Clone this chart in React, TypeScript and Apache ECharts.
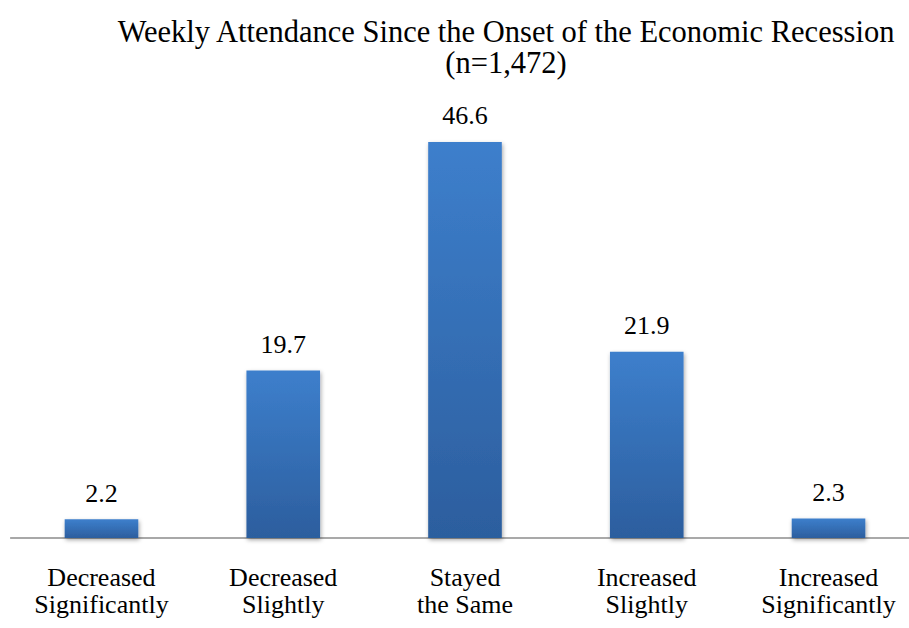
import React, { useEffect, useRef } from "react";
import * as echarts from "echarts";

const categories = [
  "Decreased\nSignificantly",
  "Decreased\nSlightly",
  "Stayed\nthe Same",
  "Increased\nSlightly",
  "Increased\nSignificantly",
];
const values = [2.2, 19.7, 46.6, 21.9, 2.3];
const titleText = "Weekly Attendance Since the Onset of the Economic Recession\n(n=1,472)";

const FONT = "Liberation Serif, Times New Roman, serif";

export default function App() {
  const ref = useRef<HTMLDivElement>(null);
  useEffect(() => {
    if (!ref.current) return;
    const chart = echarts.init(ref.current, undefined, { renderer: "svg" });
    chart.setOption({
      animation: false,
      backgroundColor: "#ffffff",
      textStyle: { fontFamily: FONT },
      title: {
        text: titleText,
        left: 501,
        textAlign: "center",
        top: 11,
        textStyle: {
          fontFamily: FONT,
          fontSize: 30.5,
          fontWeight: "normal",
          color: "#000000",
          lineHeight: 31,
        },
      },
      grid: { left: 10.6, right: 10.6, top: 113, bottom: 90 },
      xAxis: {
        type: "category",
        data: categories,
        axisLine: { lineStyle: { color: "#8c8c8c", width: 1.5 } },
        axisTick: { show: false },
        axisLabel: {
          fontFamily: FONT,
          fontSize: 26,
          color: "#000000",
          lineHeight: 27,
          margin: 26,
          interval: 0,
        },
      },
      yAxis: {
        type: "value",
        min: 0,
        max: 50,
        show: false,
        splitLine: { show: false },
      },
      series: [
        {
          type: "bar",
          data: values,
          barWidth: "40.5%",
          itemStyle: {
            color: new echarts.graphic.LinearGradient(0, 0, 0, 1, [
              { offset: 0, color: "#3d7fcc" },
              { offset: 1, color: "#2c5e9e" },
            ]),
            shadowBlur: 4,
            shadowColor: "rgba(0,0,0,0.35)",
            shadowOffsetX: 1,
            shadowOffsetY: 2,
          },
          label: {
            show: true,
            position: "top",
            distance: 13,
            fontFamily: FONT,
            fontSize: 26,
            color: "#000000",
            formatter: (p: any) => p.value.toFixed(1),
          },
        },
      ],
    });
    return () => chart.dispose();
  }, []);
  return (
    <div style={{ position: "absolute", left: 0, top: 0, width: 909, height: 628, overflow: "hidden", background: "#ffffff" }}>
      <div ref={ref} style={{ width: 930, height: 628 }} />
    </div>
  );
}
